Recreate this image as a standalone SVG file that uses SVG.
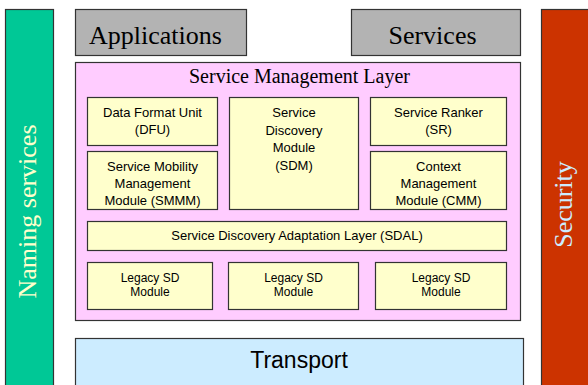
<svg xmlns="http://www.w3.org/2000/svg" width="588" height="385" viewBox="0 0 588 385">
  <style>
    .box { stroke: #333; stroke-width: 1.2; }
    .mod { fill: #FFFFCC; stroke: #333; stroke-width: 1.2; }
    .sans { font-family: "Liberation Sans", Arial, sans-serif; fill: #000; }
    .serif { font-family: "Liberation Serif", "Times New Roman", serif; }
    .lbl { font-size: 13px; text-anchor: middle; }
    .small { font-size: 12px; text-anchor: middle; }
  </style>
  <rect width="588" height="385" fill="#fff"/>

  <!-- side pillars -->
  <g id="naming">
    <rect x="5.5" y="9.5" width="48" height="390" fill="#00C896" class="box"/>
    <text class="serif" font-size="26" fill="#FFFFCC" text-anchor="middle" transform="translate(36,211.5) rotate(-90)">Naming services</text>
  </g>
  <g id="security">
    <rect x="541.5" y="9.5" width="60" height="390" fill="#CC3300" class="box"/>
    <text class="serif" font-size="26" fill="#CCECFF" text-anchor="middle" transform="translate(572,204.5) rotate(-90)">Security</text>
  </g>

  <!-- top layer -->
  <g id="applications">
    <rect x="75.5" y="9.5" width="171" height="46" fill="#B3B3B3" class="box"/>
    <text class="serif" font-size="26" x="155.5" y="43.5" text-anchor="middle">Applications</text>
  </g>
  <g id="services">
    <rect x="351.5" y="9.5" width="169" height="46" fill="#B3B3B3" class="box"/>
    <text class="serif" font-size="26" x="432.5" y="43.5" text-anchor="middle">Services</text>
  </g>

  <!-- service management layer -->
  <g id="sml">
    <rect x="75.5" y="62.5" width="445" height="258" fill="#FFCCFF" class="box"/>
    <text class="serif" font-size="20" x="299.5" y="83" text-anchor="middle">Service Management Layer</text>
  </g>
  <g id="dfu">
    <rect x="87.5" y="97.5" width="130" height="48" class="mod"/>
    <text class="sans lbl" x="152.5" y="117">Data Format Unit</text>
    <text class="sans lbl" x="152.5" y="134">(DFU)</text>
  </g>
  <g id="sdm">
    <rect x="229.5" y="97.5" width="129" height="112" class="mod"/>
    <text class="sans lbl" x="294" y="117">Service</text>
    <text class="sans lbl" x="294" y="135">Discovery</text>
    <text class="sans lbl" x="294" y="152">Module</text>
    <text class="sans lbl" x="294" y="170">(SDM)</text>
  </g>
  <g id="sr">
    <rect x="370.5" y="97.5" width="136" height="48" class="mod"/>
    <text class="sans lbl" x="438.5" y="117">Service Ranker</text>
    <text class="sans lbl" x="438.5" y="134">(SR)</text>
  </g>
  <g id="smmm">
    <rect x="87.5" y="151.5" width="130" height="58" class="mod"/>
    <text class="sans lbl" x="152.5" y="171">Service Mobility</text>
    <text class="sans lbl" x="152.5" y="188">Management</text>
    <text class="sans lbl" x="152.5" y="205">Module (SMMM)</text>
  </g>
  <g id="cmm">
    <rect x="370.5" y="151.5" width="136" height="58" class="mod"/>
    <text class="sans lbl" x="438.5" y="171">Context</text>
    <text class="sans lbl" x="438.5" y="188">Management</text>
    <text class="sans lbl" x="438.5" y="205">Module (CMM)</text>
  </g>
  <g id="sdal">
    <rect x="87.5" y="221.5" width="419" height="29" class="mod"/>
    <text class="sans lbl" x="297" y="240">Service Discovery Adaptation Layer (SDAL)</text>
  </g>
  <g id="legacy1">
    <rect x="87.5" y="262.5" width="125" height="47" class="mod"/>
    <text class="sans small" x="150" y="282">Legacy SD</text>
    <text class="sans small" x="150" y="295.5">Module</text>
  </g>
  <g id="legacy2">
    <rect x="228.5" y="262.5" width="130" height="47" class="mod"/>
    <text class="sans small" x="293.5" y="282">Legacy SD</text>
    <text class="sans small" x="293.5" y="295.5">Module</text>
  </g>
  <g id="legacy3">
    <rect x="375.5" y="262.5" width="131" height="47" class="mod"/>
    <text class="sans small" x="441" y="282">Legacy SD</text>
    <text class="sans small" x="441" y="295.5">Module</text>
  </g>

  <!-- bottom layer -->
  <g id="transport">
    <rect x="75.5" y="338.5" width="448" height="60" fill="#CCECFF" class="box"/>
    <text class="sans" font-size="23" x="299" y="368" text-anchor="middle">Transport</text>
  </g>

  <!-- no connectors: layers are stacked -->
  <g id="connectors"/>
</svg>
